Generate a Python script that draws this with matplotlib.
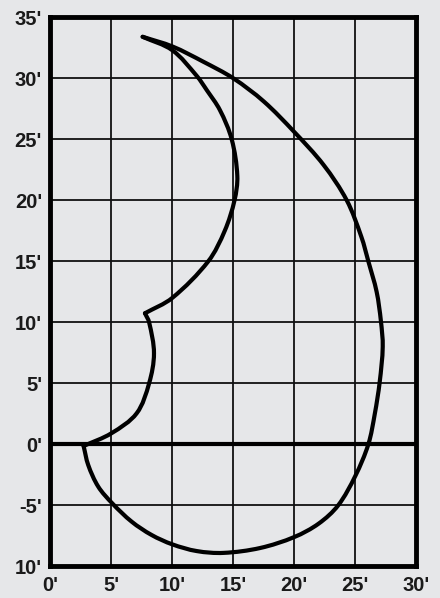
import matplotlib
matplotlib.use("Agg")
import matplotlib.pyplot as plt
import numpy as np
from matplotlib.path import Path
from matplotlib.patches import PathPatch

# Outline (feet)
# outer edge: from the tip clockwise to the lower-left corner
outer_x = [7.57, 10.03, 12.54, 15.0, 17.5, 20.0, 22.4, 24.3, 25.5, 26.07, 26.75, 27.1, 27.25, 27.0, 26.6, 26.07, 25.0, 23.6, 22.0, 20.0, 17.2, 14.2, 12.0, 10.0, 8.3, 6.67, 5.08, 3.93, 3.11, 2.73]
outer_y = [33.4, 32.6, 31.36, 30.0, 28.1, 25.6, 22.9, 20.0, 17.0, 15.0, 12.5, 10.1, 8.0, 5.1, 2.5, 0.0, -2.6, -5.0, -6.5, -7.6, -8.5, -8.9, -8.75, -8.2, -7.43, -6.34, -4.84, -3.47, -1.7, -0.14]
# inner lower lobe: lower-left corner up to the notch
lobe_x = [2.73, 5.0, 7.08, 8.1, 8.5, 8.1, 7.76]
lobe_y = [-0.14, 0.9, 2.54, 5.0, 7.46, 10.0, 10.74]
# inner upper edge: notch back up to the tip
upper_x = [7.76, 10.0, 12.95, 14.3, 15.1, 15.33, 14.87, 13.9, 12.82, 12.0, 10.0, 7.57]
upper_y = [10.74, 12.0, 15.0, 17.5, 20.0, 22.0, 25.0, 27.4, 29.04, 30.2, 32.3, 33.4]

x_ticks = [0, 5, 10, 15, 20, 25, 30]
x_labels = ["0'", "5'", "10'", "15'", "20'", "25'", "30'"]
y_ticks = [-10, -5, 0, 5, 10, 15, 20, 25, 30, 35]
y_labels = ["10'", "-5'", "0'", "5'", "10'", "15'", "20'", "25'", "30'", "35'"]


def smooth_path(xs, ys):
    p = np.column_stack([xs, ys]).astype(float)
    n = len(p)
    tang = np.zeros_like(p)
    for i in range(n):
        d = p[min(i + 1, n - 1)] - p[max(i - 1, 0)]
        tang[i] = d / np.hypot(*d)
    verts = [p[0]]
    codes = [Path.MOVETO]
    for i in range(n - 1):
        L = np.hypot(*(p[i + 1] - p[i]))
        verts += [p[i] + tang[i] * L / 3.0, p[i + 1] - tang[i + 1] * L / 3.0, p[i + 1]]
        codes += [Path.CURVE4] * 3
    return Path(verts, codes)


bg = "#e6e7e9"
fig = plt.figure(figsize=(4.4, 5.98), dpi=100, facecolor=bg)
ax = fig.add_axes([0.1143, 0.0530, 0.8318, 0.9181], facecolor=bg)

ax.set_xlim(0, 30)
ax.set_ylim(-10, 35)
ax.set_xticks(x_ticks)
ax.set_yticks(y_ticks)
ax.set_xticklabels(x_labels)
ax.set_yticklabels(y_labels)

for lab in ax.get_xticklabels() + ax.get_yticklabels():
    lab.set_fontfamily(["Liberation Sans", "DejaVu Sans"])
    lab.set_fontweight("bold")
    lab.set_fontsize(14.5)
    lab.set_color("#1a1a1a")
ax.tick_params(axis="both", length=0)
ax.tick_params(axis="x", pad=7)
ax.tick_params(axis="y", pad=6)

ax.grid(True, color="#111111", linewidth=1.3)
ax.set_axisbelow(True)
ax.axhline(0, color="#000000", linewidth=3.0, zorder=2)
for s in ax.spines.values():
    s.set_linewidth(3.5)
    s.set_color("#000000")

for xs, ys in [(outer_x, outer_y), (lobe_x, lobe_y), (upper_x, upper_y)]:
    ax.add_patch(PathPatch(smooth_path(xs, ys), facecolor="none", edgecolor="#000000",
                           linewidth=3.0, joinstyle="round", capstyle="round", zorder=3))

fig.savefig("out.png", dpi=100, facecolor=bg)
